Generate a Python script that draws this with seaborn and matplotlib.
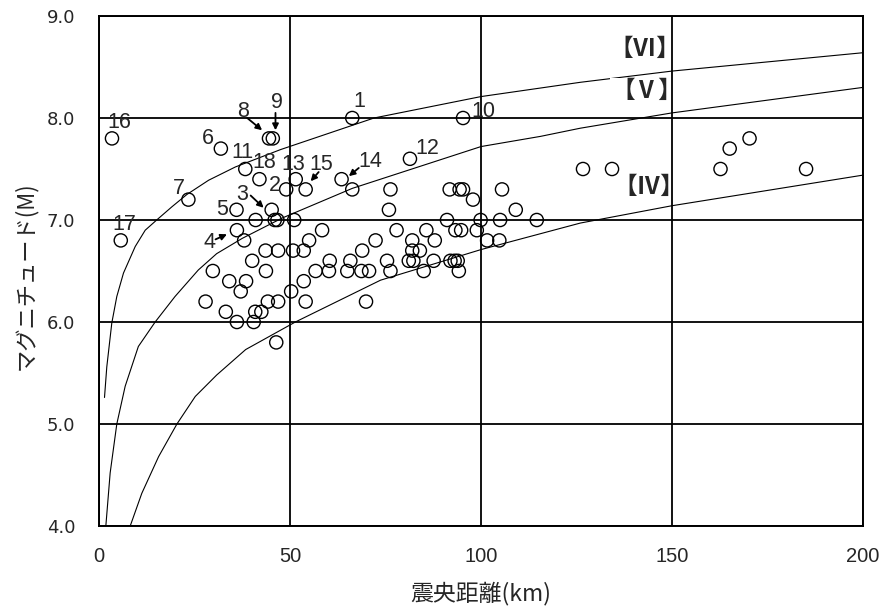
import numpy as np
import pandas as pd
import matplotlib
matplotlib.use("Agg")
import matplotlib.pyplot as plt
from matplotlib.ticker import FormatStrFormatter
import seaborn as sns

# ---------------- data ----------------
# epicentral distance (km) and magnitude of each event (read row by row)
dist = [66.3, 95.3,
        3.4, 44.5, 45.5, 170.3,
        31.9, 165.1,
        81.4,
        38.3, 126.7, 134.3, 162.7, 185.1,
        42.0, 51.5, 63.5,
        49.0, 54.1, 66.3, 76.3, 91.8, 94.4, 95.3, 105.5,
        23.4, 97.9,
        36.0, 45.2, 75.9, 109.1,
        41.0, 46.0, 46.7, 51.1, 91.1, 99.9, 105.0, 114.6,
        36.1, 58.4, 77.9, 85.7, 93.3, 94.8, 98.9,
        5.7, 38.0, 55.0, 72.4, 82.0, 87.9, 101.6, 104.8,
        43.6, 46.9, 50.8, 53.6, 68.9, 82.0, 84.0,
        40.1, 60.4, 65.8, 75.4, 81.1, 82.3, 87.6, 92.0, 93.1, 93.9,
        29.8, 43.7, 56.7, 60.2, 65.0, 68.7, 70.7, 76.3, 85.0, 94.2,
        34.1, 38.5, 53.6,
        37.1, 50.3,
        27.9, 44.2, 46.9, 54.1, 69.9,
        33.2, 40.9, 42.5,
        36.1, 40.5,
        46.4]
mag = [8.0, 8.0,
       7.8, 7.8, 7.8, 7.8,
       7.7, 7.7,
       7.6,
       7.5, 7.5, 7.5, 7.5, 7.5,
       7.4, 7.4, 7.4,
       7.3, 7.3, 7.3, 7.3, 7.3, 7.3, 7.3, 7.3,
       7.2, 7.2,
       7.1, 7.1, 7.1, 7.1,
       7.0, 7.0, 7.0, 7.0, 7.0, 7.0, 7.0, 7.0,
       6.9, 6.9, 6.9, 6.9, 6.9, 6.9, 6.9,
       6.8, 6.8, 6.8, 6.8, 6.8, 6.8, 6.8, 6.8,
       6.7, 6.7, 6.7, 6.7, 6.7, 6.7, 6.7,
       6.6, 6.6, 6.6, 6.6, 6.6, 6.6, 6.6, 6.6, 6.6, 6.6,
       6.5, 6.5, 6.5, 6.5, 6.5, 6.5, 6.5, 6.5, 6.5, 6.5,
       6.4, 6.4, 6.4,
       6.3, 6.3,
       6.2, 6.2, 6.2, 6.2, 6.2,
       6.1, 6.1, 6.1,
       6.0, 6.0,
       5.8]

# intensity boundary curves
curve6_x = [1.44, 2.04, 3.35, 4.66, 6.41, 9.48, 12.1, 15.1, 19.1, 23.0, 28.7,
            35.7, 47.5, 72.0, 100.0, 126.0, 150.0, 200.0]
curve6_m = [5.26, 5.56, 5.99, 6.25, 6.48, 6.74, 6.90, 7.00, 7.13, 7.25, 7.39,
            7.52, 7.69, 8.00, 8.21, 8.35, 8.46, 8.64]
curve5_x = [1.79, 2.92, 4.66, 6.85, 10.3, 14.7, 19.9, 26.0, 30.8, 37.5, 48.0,
            66.3, 100.0, 115.6, 126.0, 150.0, 200.0]
curve5_m = [4.00, 4.52, 5.00, 5.37, 5.76, 6.00, 6.25, 6.51, 6.67, 6.82, 7.02,
            7.31, 7.72, 7.82, 7.90, 8.05, 8.30]
curve4_x = [8.17, 11.2, 15.6, 20.4, 25.2, 30.8, 38.4, 51.4, 73.7, 100.0,
            126.0, 150.0, 200.0]
curve4_m = [4.00, 4.32, 4.68, 5.00, 5.27, 5.48, 5.73, 6.00, 6.41, 6.71,
            6.97, 7.14, 7.44]

# event number labels
num_text = ["1", "10", "12", "16", "17", "6", "8", "9", "11", "18",
            "13", "15", "14", "2", "3", "5", "4", "7"]
num_x = [68.2, 100.7, 86.0, 5.4, 6.7, 28.4, 37.8, 46.7, 37.6, 43.3,
         50.9, 58.2, 71.1, 46.0, 37.6, 32.3, 28.9, 20.8]
num_y = [8.16, 8.06, 7.70, 7.96, 6.96, 7.80, 8.06, 8.15, 7.66, 7.56,
         7.54, 7.54, 7.57, 7.34, 7.25, 7.10, 6.78, 7.31]

# arrows: tail -> head
arrow_tail_x = [38.8, 46.2, 39.7, 30.5, 68.0, 57.5]
arrow_tail_y = [8.00, 8.05, 7.24, 6.81, 7.51, 7.47]
arrow_head_x = [42.7, 46.2, 43.1, 33.5, 65.4, 55.4]
arrow_head_y = [7.88, 7.88, 7.12, 6.86, 7.43, 7.38]

# intensity zone labels
zone_text = ["【Ⅵ】", "【Ⅴ】", "【Ⅳ】"]
zone_x = [142.8, 143.3, 143.9]
zone_y = [8.68, 8.27, 7.32]

xticks = [0, 50, 100, 150, 200]
yticks = [4.0, 5.0, 6.0, 7.0, 8.0, 9.0]

# ---------------- plot ----------------
sns.set_style("white")
plt.rcParams['font.family'] = ['Noto Sans CJK JP', 'DejaVu Sans']

fig = plt.figure(figsize=(8.8, 6.1), dpi=100)
ax = fig.add_axes([99 / 880, 84 / 610, 764 / 880, 510 / 610])

df = pd.DataFrame({"dist": dist, "mag": mag})
for cx, cm in [(curve6_x, curve6_m), (curve5_x, curve5_m), (curve4_x, curve4_m)]:
    sns.lineplot(x=cx, y=cm, ax=ax, color="black", lw=0.8, sort=False,
                 estimator=None, zorder=1.8)

sns.scatterplot(data=df, x="dist", y="mag", ax=ax, marker="o", s=90,
                facecolors="none", edgecolor="black", linewidth=1.0, zorder=3)

for t, x, y in zip(num_text, num_x, num_y):
    ax.text(x, y, t, ha="center", va="center", fontsize=15.5,
            family=["Liberation Sans", "DejaVu Sans"], zorder=6)

for tx, ty, hx, hy in zip(arrow_tail_x, arrow_tail_y, arrow_head_x, arrow_head_y):
    ax.annotate("", xy=(hx, hy), xytext=(tx, ty),
                arrowprops=dict(arrowstyle="-|>", color="black", lw=1.3,
                                mutation_scale=9, shrinkA=0, shrinkB=0),
                zorder=6)

for t, x, y in zip(zone_text, zone_x, zone_y):
    ax.text(x, y, t, ha="center", va="center", fontsize=17, fontweight="bold",
            family=["Noto Sans CJK JP", "DejaVu Sans"],
            bbox=dict(fc="white", ec="none", pad=0.5), zorder=2.2)

ax.set_xlim(0, 200)
ax.set_ylim(4.0, 9.0)
ax.set_xticks(xticks)
ax.set_yticks(yticks)
ax.yaxis.set_major_formatter(FormatStrFormatter("%.1f"))
ax.set_axisbelow(False)
ax.grid(True, color="black", lw=1.3)
for s in ax.spines.values():
    s.set_color("black")
    s.set_linewidth(1.4)
    s.set_visible(True)

ax.tick_params(axis="both", length=0)
ax.tick_params(axis="y", pad=17)
ax.tick_params(axis="x", pad=15)
for lab in ax.get_yticklabels():
    lab.set_fontfamily(["DejaVu Sans"])
    lab.set_fontsize(13)
for lab in ax.get_xticklabels():
    lab.set_fontfamily(["Liberation Sans", "DejaVu Sans"])
    lab.set_fontsize(14.5)

ax.set_xlabel("震央距離(km)", fontsize=16.5)
ax.set_ylabel("マグニチュード(M)", fontsize=16)
ax.xaxis.set_label_coords(0.5, -0.133)
ax.xaxis.label.set_va("center")
ax.yaxis.set_label_coords(-0.097, 0.49)
ax.yaxis.label.set_va("center")

fig.savefig("out.png", dpi=100, facecolor="white")
